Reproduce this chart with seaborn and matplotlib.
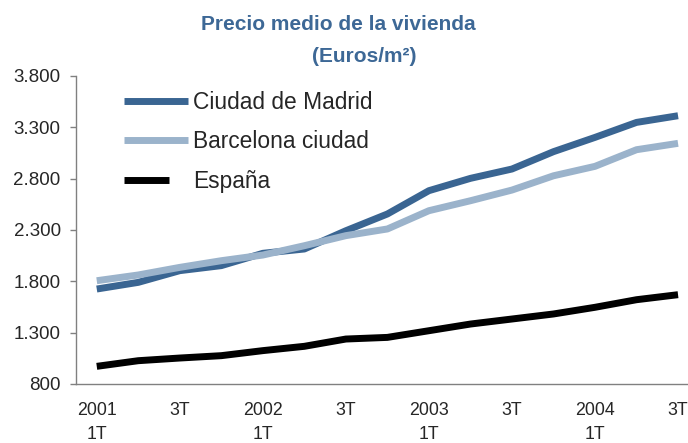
import numpy as np
import pandas as pd
import matplotlib.pyplot as plt
import seaborn as sns

# =========================
# DATA
# =========================
trimestres = ["2001 1T", "2001 2T", "2001 3T", "2001 4T",
              "2002 1T", "2002 2T", "2002 3T", "2002 4T",
              "2003 1T", "2003 2T", "2003 3T", "2003 4T",
              "2004 1T", "2004 2T", "2004 3T"]
madrid = [1725, 1790, 1904, 1953, 2073, 2115, 2293, 2456,
          2683, 2803, 2894, 3063, 3202, 3348, 3413]
barcelona = [1806, 1862, 1936, 2001, 2056, 2147, 2245, 2310,
             2488, 2585, 2689, 2828, 2920, 3082, 3144]
espana = [972, 1027, 1053, 1076, 1125, 1167, 1238, 1254,
          1319, 1384, 1433, 1482, 1547, 1621, 1670]

series = ["Ciudad de Madrid", "Barcelona ciudad", "España"]
colores = ["#3a6592", "#9bb3cb", "#000000"]

xtick_labels = ["2001\n1T", "3T", "2002\n1T", "3T", "2003\n1T", "3T", "2004\n1T", "3T"]
yticks = [800, 1300, 1800, 2300, 2800, 3300, 3800]
ytick_labels = ["800", "1.300", "1.800", "2.300", "2.800", "3.300", "3.800"]

titulo = "Precio medio de la vivienda"
subtitulo = "(Euros/m²)"

# long format
n = len(trimestres)
df = pd.DataFrame({
    "trimestre": trimestres * 3,
    "pos": list(range(n)) * 3,
    "precio": madrid + barcelona + espana,
    "serie": [series[0]] * n + [series[1]] * n + [series[2]] * n,
})

# =========================
# PLOT
# =========================
sns.set_style("white")
plt.rcParams['font.family'] = ['Liberation Sans', 'DejaVu Sans']

fig = plt.figure(figsize=(6.88, 4.43), dpi=100)
ax = fig.add_axes([76 / 688, 59 / 443, (688 - 76) / 688, 308 / 443])

sns.lineplot(data=df, x="pos", y="precio", hue="serie", hue_order=series,
             palette=colores, linewidth=5, solid_capstyle="butt", ax=ax)

ax.set_xlim(-0.5, 14.24)
ax.set_ylim(800, 3800)
ax.set_xlabel("")
ax.set_ylabel("")

ax.set_yticks(yticks)
ax.set_yticklabels(ytick_labels, fontsize=13.5)
ax.set_xticks(np.arange(0, n, 2))
ax.set_xticklabels(xtick_labels, fontsize=12.8, linespacing=1.5)
ax.set_xticks(np.arange(-0.5, n - 1, 1), minor=True)

ax.tick_params(axis="x", which="major", length=0, pad=13)
ax.tick_params(axis="x", which="minor", length=4.5, width=1, color="#808080", direction="out")
ax.tick_params(axis="y", length=4.5, width=1, color="#808080", pad=6.5, direction="out", left=True)

for s in ["top", "right"]:
    ax.spines[s].set_visible(False)
for s in ["left", "bottom"]:
    ax.spines[s].set_color("#808080")
    ax.spines[s].set_linewidth(1)

# legend
handles, labels = ax.get_legend_handles_labels()
for h, c in zip(handles, colores):
    h.set_linewidth(5)
    h.set_color(c)
    h.set_solid_capstyle("butt")
leg = ax.legend(handles, labels, loc="upper left", frameon=False,
                bbox_to_anchor=(124 / 688, 1 - 91 / 443), bbox_transform=fig.transFigure,
                borderpad=0, borderaxespad=0, fontsize=16.4, handlelength=2.8,
                handletextpad=0.22, labelspacing=0.72)
# shorter handle for España
ln = leg.get_lines()[2]
xd = np.asarray(ln.get_xdata(), dtype=float)
ln.set_xdata(xd[0] + (xd - xd[0]) * 0.7)

# title
fig.text(338 / 688, 1 - 30 / 443, titulo, ha="center", va="baseline",
         fontsize=15, fontweight="bold", family="Liberation Sans", color="#3d6896")
fig.text(364.5 / 688, 1 - 62 / 443, subtitulo, ha="center", va="baseline",
         fontsize=15, fontweight="bold", family="Liberation Sans", color="#3d6896")

fig.savefig("out.png", dpi=100)
